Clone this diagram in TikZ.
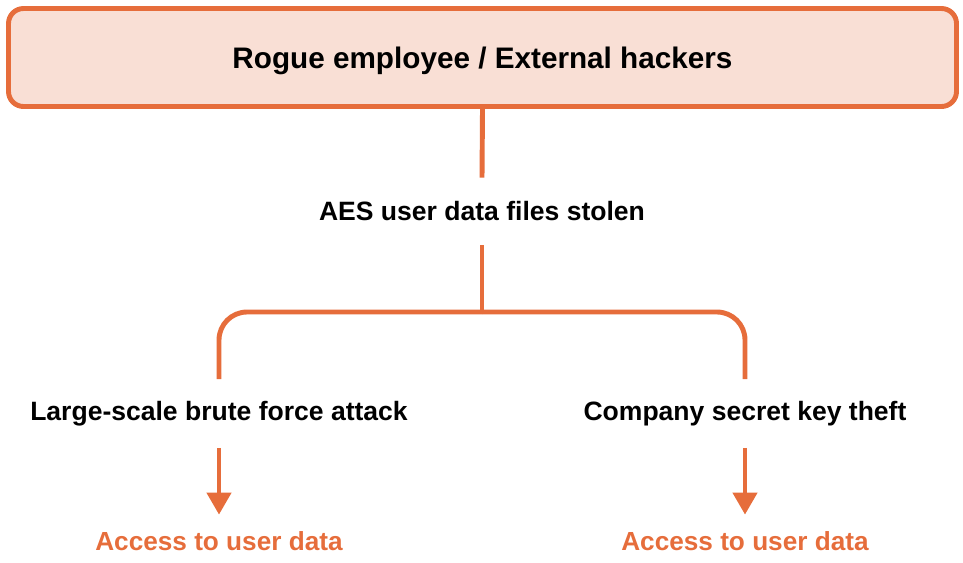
\documentclass[tikz,border=0pt]{standalone}
\usepackage{fontspec}
\setmainfont{Liberation Sans}
\usetikzlibrary{arrows.meta}
\definecolor{rust}{HTML}{E66D3B}
\definecolor{blush}{HTML}{F9DFD5}

\begin{document}
\begin{tikzpicture}[x=0.02cm,y=-0.02cm,
    link/.style={draw=rust,line width=2.8pt},
    txt/.style={font=\bfseries\fontsize{15.1}{17}\selectfont,inner sep=0pt,minimum height=68*0.02cm},
    result/.style={font=\bfseries\fontsize{14.9}{17}\selectfont,text=rust,inner sep=0pt,minimum height=52*0.02cm}]
  \useasboundingbox (0,0) rectangle (963,562);
  \node[draw=rust,fill=blush,line width=2.8pt,rounded corners=15*0.02cm,
        minimum width=948*0.02cm,minimum height=98*0.02cm,text depth=0pt,
        font=\bfseries\fontsize{16.9}{19}\selectfont] (attacker) at (482.5,57.5)
        {Rogue employee / External hackers};
  \node[txt,minimum height=67*0.02cm] (stolen) at (482,211.5) {AES user data files stolen};
  \coordinate (fork) at (482,312);
  \node[txt] (brute) at (219,413.5) {Large-scale brute force attack};
  \node[txt] (keytheft) at (745,413.5) {Company secret key theft};
  \node[result] (access1) at (219,541) {Access to user data};
  \node[result] (access2) at (745,541) {Access to user data};
  % connectors
  \draw[link] (attacker.south) -- (stolen.north);
  \draw[link] (stolen.south) -- (fork);
  \draw[link,rounded corners=28*0.02cm] (fork) -| (brute.north);
  \draw[link,rounded corners=28*0.02cm] (fork) -| (keytheft.north);
  \draw[link,-{Triangle[width=13.5pt,length=12.5pt]}] (brute.south) -- (access1.north);
  \draw[link,-{Triangle[width=13.5pt,length=12.5pt]}] (keytheft.south) -- (access2.north);
\end{tikzpicture}
\end{document}
